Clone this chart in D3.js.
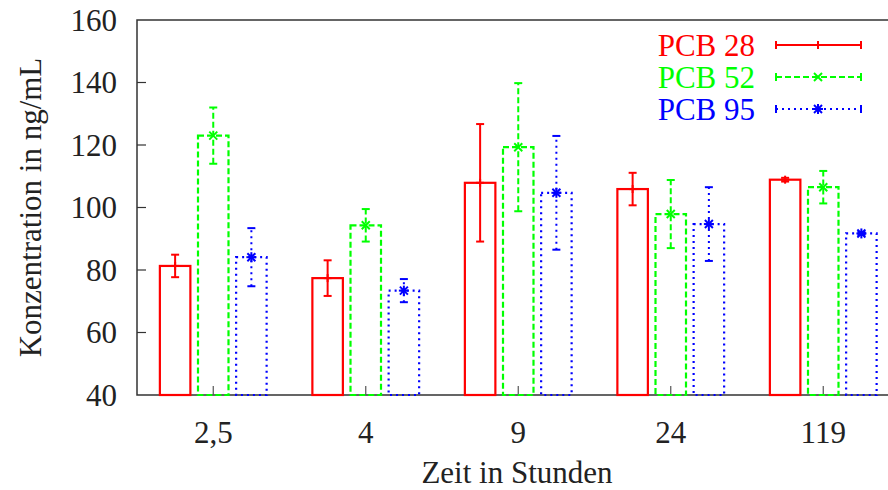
<!DOCTYPE html>
<meta charset="utf-8">
<style>
body { margin: 0; background: #fff; }
text { font-family: "Liberation Serif", "DejaVu Serif", serif; font-size: 31px; fill: #222; }
</style>
<svg width="888" height="490"></svg>
<script src="https://d3js.org/d3.v7.min.js"></script>
<script>

// data
var categories = ["2,5", "4", "9", "24", "119"];
var seriesNames = ["PCB 28", "PCB 52", "PCB 95"];
var pcb28 = [81.3, 77.4, 107.9, 105.9, 108.9];
var pcb28err = [3.6, 5.7, 18.8, 5.2, 0.6];
var pcb52 = [123.0, 94.3, 119.3, 97.9, 106.5];
var pcb52err = [9.0, 5.2, 20.5, 10.9, 5.2];
var pcb95 = [84.1, 73.4, 104.7, 94.7, 91.7];
var pcb95err = [9.3, 3.7, 18.2, 11.8, 0.5];
var yTicks = [40, 60, 80, 100, 120, 140, 160];

var series = [
  { name: seriesNames[0], values: pcb28, err: pcb28err, color: "#ff0000", dash: null, marker: "plus" },
  { name: seriesNames[1], values: pcb52, err: pcb52err, color: "#00ff00", dash: "6,3", marker: "cross" },
  { name: seriesNames[2], values: pcb95, err: pcb95err, color: "#0000ff", dash: "2,4", marker: "star" }
];

var svg = d3.select("svg"),
    pLeft = 137, pRight = 899.5, pTop = 20, pBottom = 395;

var x = d3.scaleLinear().domain([-0.5, 4.5]).range([pLeft, pRight]);
var y = d3.scaleLinear().domain([40, 160]).range([pBottom, pTop]);

var offset = 0.25, barW = x(0.2) - x(0);

// markers, gnuplot style
function drawMarker(g, type, cx, cy, color) {
  var s = type === "star" ? 5 : 4;
  var segs = [];
  if (type === "plus" || type === "star") {
    segs.push([cx - s, cy, cx + s, cy], [cx, cy - s, cx, cy + s]);
  }
  if (type === "cross" || type === "star") {
    var d = type === "star" ? s * 0.8 : s;
    segs.push([cx - d, cy - d, cx + d, cy + d], [cx - d, cy + d, cx + d, cy - d]);
  }
  segs.forEach(function(p) {
    g.append("line").attr("x1", p[0]).attr("y1", p[1]).attr("x2", p[2]).attr("y2", p[3])
      .attr("stroke", color).attr("stroke-width", 2);
  });
}

// frame + ticks
var frame = svg.append("g").attr("stroke", "#333").attr("fill", "none");
frame.append("path")
    .attr("d", "M" + pRight + "," + pTop + "H" + pLeft + "V" + pBottom + "H" + pRight)
    .attr("stroke-width", 1.5);

yTicks.forEach(function(t) {
  if (t > 40 && t < 160) {
    frame.append("line").attr("x1", pLeft).attr("x2", pLeft + 9)
      .attr("y1", y(t)).attr("y2", y(t)).attr("stroke-width", 1.2);
  }
  svg.append("text").attr("x", 117).attr("y", y(t)).attr("dy", "0.35em")
    .attr("text-anchor", "end").text(t);
});

categories.forEach(function(c, i) {
  frame.append("line").attr("x1", x(i)).attr("x2", x(i))
    .attr("y1", pBottom).attr("y2", pBottom - 9).attr("stroke", "#555").attr("stroke-width", 1.2);
  svg.append("text").attr("x", x(i)).attr("y", 432).attr("dy", "0.35em")
    .attr("text-anchor", "middle").text(c);
});

// bars with error bars
series.forEach(function(s, k) {
  var g = svg.append("g");
  s.values.forEach(function(v, i) {
    var cx = x(i + (k - 1) * offset);
    g.append("rect")
      .attr("x", cx - barW / 2).attr("y", y(v))
      .attr("width", barW).attr("height", y(40) - y(v))
      .attr("fill", "none").attr("stroke", s.color).attr("stroke-width", 2.2)
      .attr("stroke-dasharray", s.dash);
    var lo = y(v - s.err[i]), hi = y(v + s.err[i]);
    g.append("line").attr("x1", cx).attr("x2", cx).attr("y1", lo).attr("y2", hi)
      .attr("stroke", s.color).attr("stroke-width", 2).attr("stroke-dasharray", s.dash);
    [lo, hi].forEach(function(yy) {
      g.append("line").attr("x1", cx - 4).attr("x2", cx + 4).attr("y1", yy).attr("y2", yy)
        .attr("stroke", s.color).attr("stroke-width", 2);
    });
    drawMarker(g, s.marker, cx, y(v), s.color);
  });
});

// legend
series.forEach(function(s, k) {
  var ly = 45 + k * 32;
  svg.append("text").attr("x", 755).attr("y", ly).attr("dy", "0.35em")
    .attr("text-anchor", "end").style("fill", s.color).text(s.name);
  var g = svg.append("g");
  g.append("line").attr("x1", 776).attr("x2", 861).attr("y1", ly).attr("y2", ly)
    .attr("stroke", s.color).attr("stroke-width", 2).attr("stroke-dasharray", s.dash);
  [776, 861].forEach(function(xx) {
    g.append("line").attr("x1", xx).attr("x2", xx).attr("y1", ly - 4).attr("y2", ly + 4)
      .attr("stroke", s.color).attr("stroke-width", 2);
  });
  drawMarker(g, s.marker, 818, ly, s.color);
});

// axis titles
svg.append("text").attr("x", 517).attr("y", 472).attr("dy", "0.35em")
  .attr("text-anchor", "middle").text("Zeit in Stunden");
svg.append("text")
  .attr("transform", "translate(30," + ((pTop + pBottom) / 2) + ") rotate(-90)")
  .attr("dy", "0.35em").attr("text-anchor", "middle").text("Konzentration in ng/mL");

</script>
